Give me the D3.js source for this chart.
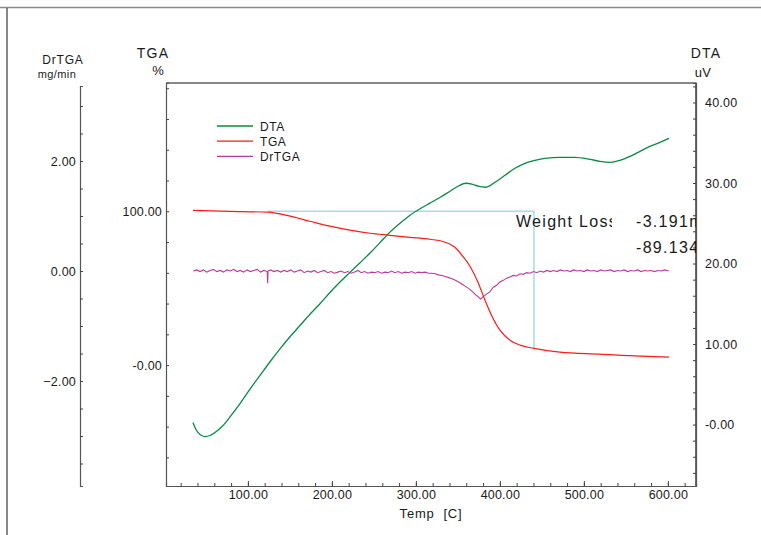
<!DOCTYPE html>
<html>
<head>
<meta charset="utf-8">
<script src="https://cdn.jsdelivr.net/npm/d3@7"></script>
<style>
  html, body { margin: 0; padding: 0; background: #fff; }
  svg { display: block; font-family: "Liberation Sans", Arial, sans-serif; }
</style>
</head>
<body>
<svg id="chart" width="761" height="535"></svg>
<script>
// ---- data ---------------------------------------------------------------
// DTA signal [temperature °C, uV]
const dtaData = [
  [34.6, 0.25], [38.2, -0.62], [43.0, -1.24], [48.9, -1.49], [54.9, -1.36],
  [60.8, -0.99], [69.2, -0.25], [78.7, 0.95], [90.6, 2.6], [102.5, 4.4],
  [114.4, 6.1], [126.3, 7.8], [138.2, 9.4], [150.1, 10.9], [162.0, 12.3],
  [173.9, 13.7], [185.8, 15.0], [197.7, 16.4], [209.6, 17.7], [221.5, 18.9],
  [233.5, 20.1], [245.4, 21.3], [257.3, 22.6], [269.2, 23.9], [281.1, 25.0],
  [293.0, 26.0], [304.9, 26.8], [316.8, 27.5], [328.7, 28.2], [340.6, 28.98],
  [350.1, 29.60], [359.6, 29.97], [366.8, 29.85], [373.9, 29.60], [383.5, 29.47],
  [394.2, 30.09], [406.1, 30.96], [418.0, 31.83], [429.9, 32.45], [441.8, 32.82],
  [453.7, 33.07], [471.5, 33.19], [489.4, 33.19], [507.3, 32.94], [519.2, 32.69],
  [531.1, 32.57], [543.0, 32.82], [554.9, 33.31], [566.8, 33.93], [578.7, 34.55],
  [590.6, 35.05], [601.3, 35.54]
];

// TGA mass [temperature °C, %]
const tgaData = [
  [34.6, 100.6], [78.7, 100.0], [123.9, 99.4], [150.1, 96.8], [173.9, 93.5],
  [197.7, 90.3], [221.5, 87.7], [245.4, 85.7], [269.2, 84.4], [293.0, 83.1],
  [316.8, 81.8], [334.6, 79.9], [346.5, 76.6], [354.9, 71.4], [364.4, 64.3],
  [373.9, 53.9], [382.3, 42.2], [390.6, 31.8], [400.1, 22.7], [412.0, 16.2],
  [423.9, 13.0], [440.6, 10.87], [471.5, 8.4], [519.2, 7.1], [566.8, 5.8],
  [601.3, 5.2]
];

// DrTGA rate [temperature °C, mg/min]
const drtgaData = [
  [35, 0.00], [39, 0.02], [43, -0.01], [47, 0.02], [51, -0.02], [55, 0.01],
  [59, 0.03], [63, -0.01], [67, 0.01], [71, -0.02], [75, 0.02], [79, 0.00],
  [83, 0.03], [87, -0.01], [91, 0.01], [95, -0.02], [99, 0.02], [103, -0.01],
  [107, 0.01], [111, 0.03], [115, -0.02], [119, 0.01], [123, -0.01], [123.5, -0.22],
  [124, 0.00], [127, 0.02], [131, -0.01], [135, 0.01], [139, -0.02], [143, 0.01],
  [147, -0.01], [151, 0.02], [155, -0.02], [159, 0.00], [163, 0.02], [167, -0.03],
  [171, 0.00], [175, -0.02], [179, 0.01], [183, -0.03], [187, -0.01], [191, 0.01],
  [195, -0.03], [199, -0.01], [203, -0.04], [207, -0.02], [211, 0.00], [215, -0.03],
  [219, -0.01], [223, -0.04], [227, -0.02], [231, 0.01], [235, -0.03], [239, -0.01],
  [243, -0.04], [247, -0.02], [251, -0.03], [255, -0.01], [259, -0.04], [263, -0.02],
  [267, -0.03], [271, 0.00], [275, -0.03], [279, -0.01], [283, -0.04], [287, -0.02],
  [291, -0.03], [295, -0.01], [299, -0.04], [303, -0.02], [307, -0.03], [311, -0.02],
  [315, -0.04], [319, -0.04], [323, -0.05], [327, -0.07], [331, -0.08], [335, -0.10],
  [339, -0.12], [343, -0.14], [347, -0.17], [351, -0.20], [355, -0.24], [359, -0.28],
  [363, -0.32], [367, -0.37], [371, -0.43], [375, -0.48], [377, -0.51], [380, -0.47],
  [384, -0.42], [388, -0.38], [392, -0.30], [396, -0.26], [400, -0.20], [404, -0.17],
  [408, -0.13], [412, -0.11], [416, -0.08], [420, -0.09], [424, -0.05], [428, -0.06],
  [432, -0.03], [436, -0.04], [440, -0.01], [444, -0.03], [448, 0.00], [452, -0.02],
  [456, 0.01], [460, -0.01], [464, 0.01], [468, -0.01], [472, 0.02], [476, 0.00],
  [480, 0.01], [484, -0.01], [488, 0.02], [492, 0.00], [496, 0.01], [500, -0.01],
  [504, 0.02], [508, 0.00], [512, 0.01], [516, -0.01], [520, 0.02], [524, 0.00],
  [528, 0.01], [532, 0.02], [536, -0.01], [540, 0.01], [544, 0.00], [548, 0.02],
  [552, -0.01], [556, 0.01], [560, 0.00], [564, 0.02], [568, -0.01], [572, 0.01],
  [576, 0.00], [580, 0.01], [584, -0.01], [588, 0.01], [592, 0.00], [596, 0.02],
  [601, 0.00]
];

// weight-loss analysis: from/to temperature and results
const lossFrom = 123.9;
const lossTo = 440.6;
const lossStartPct = 100.0;
const lossLabel = "Weight Loss";
const lossValues = ["-3.191mg", "-89.134%"];

// axis tick values and labels
const tempTicks = [100, 200, 300, 400, 500, 600];
const tgaLabelTicks = [100, 0];
const dtaLabelTicks = [40, 30, 20, 10, 0];
const drtgaLabelTicks = [2, 0, -2];
const seriesNames = ["DTA", "TGA", "DrTGA"];

// ---- layout -------------------------------------------------------------
const colors = { DTA: "#0a8a45", TGA: "#ff1a1a", DrTGA: "#b63c9e", loss: "#a6dde6" };
const plot = { left: 166, right: 696, top: 83, bottom: 486 };
const drAxisX = 80, drAxisTop = 86;

const svg = d3.select("#chart");

const x = d3.scaleLinear().domain([2.5, 633.5]).range([plot.left, plot.right]);
const yTga = d3.scaleLinear().domain([-78.6, 183.4]).range([plot.bottom, plot.top]);
const yDta = d3.scaleLinear().domain([-7.63, 42.42]).range([plot.bottom, plot.top]);
const yDr = d3.scaleLinear().domain([-3.909, 3.364]).range([plot.bottom, drAxisTop]);

const fmt = v => (Math.abs(v) < 1e-9 ? "-0.00" : d3.format(".2f")(v));

// outer page frame
svg.append("line").attr("x1", 0).attr("x2", 761).attr("y1", 7.5).attr("y2", 7.5)
  .attr("stroke", "#8a8a8a").attr("stroke-width", 1.5);
svg.append("line").attr("x1", 7).attr("x2", 7).attr("y1", 8).attr("y2", 535)
  .attr("stroke", "#111").attr("stroke-width", 1);

// plot frame: top and right edges
svg.append("path")
  .attr("d", `M${plot.left},${plot.top}H${plot.right}V${plot.bottom}`)
  .attr("fill", "none").attr("stroke", "#111").attr("stroke-width", 1.2);

function styleAxis(g) {
  g.select(".domain").attr("stroke", "#555").attr("stroke-width", 1.2);
  g.selectAll(".tick line").attr("stroke", "#444");
  g.selectAll("text").attr("fill", "#1a1a1a").style("font-size", "12.5px")
    .style("letter-spacing", "0.2px").attr("font-family", "Liberation Sans, Arial, sans-serif");
}

// bottom temperature axis: minor ticks every 20, labels every 100
const xMinor = d3.range(20, 634, 20);
svg.append("g").attr("transform", `translate(0,${plot.bottom})`)
  .call(d3.axisTop(x).tickValues(xMinor).tickSize(3).tickFormat(""))
  .call(styleAxis);
svg.append("g").attr("transform", `translate(0,${plot.bottom})`)
  .call(d3.axisBottom(x).tickValues(tempTicks).tickSize(0).tickPadding(4).tickFormat(d3.format(".2f")))
  .call(g => g.select(".domain").remove())
  .call(styleAxis);
svg.append("g").attr("transform", `translate(0,${plot.bottom})`)
  .call(d3.axisTop(x).tickValues(tempTicks).tickSize(5).tickFormat(""))
  .call(g => g.select(".domain").remove())
  .call(styleAxis);

// left TGA axis
svg.append("g").attr("transform", `translate(${plot.left},0)`)
  .call(d3.axisRight(yTga).tickValues(d3.range(-60, 181, 20)).tickSize(3).tickFormat(""))
  .call(styleAxis);
svg.append("g").attr("transform", `translate(${plot.left},0)`)
  .call(d3.axisLeft(yTga).tickValues(tgaLabelTicks).tickSize(0).tickPadding(4).tickFormat(fmt))
  .call(g => g.select(".domain").remove())
  .call(styleAxis);

// right DTA axis
svg.append("g").attr("transform", `translate(${plot.right},0)`)
  .call(d3.axisLeft(yDta).tickValues(d3.range(-6, 43, 2)).tickSize(3).tickFormat(""))
  .call(g => g.select(".domain").attr("stroke", "#111"))
  .call(styleAxis);
svg.append("g").attr("transform", `translate(${plot.right},0)`)
  .call(d3.axisRight(yDta).tickValues(dtaLabelTicks).tickSize(0).tickPadding(9).tickFormat(fmt))
  .call(g => g.select(".domain").remove())
  .call(styleAxis);

// far-left DrTGA axis
svg.append("g").attr("transform", `translate(${drAxisX},0)`)
  .call(d3.axisRight(yDr).tickValues(d3.range(-3.5, 3.01, 0.5)).tickSize(3).tickFormat(""))
  .call(styleAxis);
svg.append("g").attr("transform", `translate(${drAxisX},0)`)
  .call(d3.axisLeft(yDr).tickValues(drtgaLabelTicks).tickSize(0).tickPadding(4).tickFormat(d3.format(".2f")))
  .call(g => g.select(".domain").remove())
  .call(styleAxis);

// axis titles
const titles = [
  { t: "DrTGA", x: 63, y: 64, s: 12, ls: 0.8 },
  { t: "mg/min", x: 57, y: 78, s: 11, ls: 0.4 },
  { t: "TGA", x: 153, y: 58, s: 14, ls: 1.2 },
  { t: "%", x: 158, y: 75, s: 13, ls: 0 },
  { t: "DTA", x: 706, y: 58, s: 14, ls: 1.2 },
  { t: "uV", x: 703, y: 77, s: 13, ls: 0.4 },
  { t: "Temp  [C]", x: 431, y: 518, s: 13, ls: 0.8 }
];
svg.append("g").selectAll("text").data(titles).join("text")
  .attr("x", d => d.x).attr("y", d => d.y).attr("text-anchor", "middle")
  .style("font-size", d => d.s + "px").style("letter-spacing", d => d.ls + "px")
  .style("white-space", "pre").attr("fill", "#1a1a1a").text(d => d.t);

// clip for the curves
svg.append("clipPath").attr("id", "plotClip").append("rect")
  .attr("x", plot.left).attr("y", plot.top)
  .attr("width", plot.right - plot.left).attr("height", plot.bottom - plot.top);
const layer = svg.append("g").attr("clip-path", "url(#plotClip)");

// weight-loss construction lines
const tgaAtEnd = tgaData.find(d => d[0] === lossTo)[1];
layer.append("path")
  .attr("d", `M${x(lossFrom)},${yTga(lossStartPct)}H${x(lossTo)}V${yTga(tgaAtEnd)}`)
  .attr("fill", "none").attr("stroke", colors.loss).attr("stroke-width", 1.5);

// curves
const line = yScale => d3.line().x(d => x(d[0])).y(d => yScale(d[1]));
layer.append("path").datum(drtgaData).attr("d", line(yDr))
  .attr("fill", "none").attr("stroke", colors.DrTGA).attr("stroke-width", 1.1);
layer.append("path").datum(tgaData).attr("d", line(yTga).curve(d3.curveMonotoneX))
  .attr("fill", "none").attr("stroke", colors.TGA).attr("stroke-width", 1.2);
layer.append("path").datum(dtaData).attr("d", line(yDta).curve(d3.curveMonotoneX))
  .attr("fill", "none").attr("stroke", colors.DTA).attr("stroke-width", 1.3);

// legend
const legend = svg.append("g").selectAll("g").data(seriesNames).join("g")
  .attr("transform", (d, i) => `translate(217,${126 + i * 15.2})`);
legend.append("line").attr("x1", 0).attr("x2", 36)
  .attr("stroke", d => colors[d]).attr("stroke-width", 1.3);
legend.append("text").attr("x", 43).attr("y", 4.5)
  .style("font-size", "12px").style("letter-spacing", "0.6px").attr("fill", "#1a1a1a").text(d => d);

// weight-loss annotation, each field clipped to its cell
const cells = [
  { id: "c0", x: 516, w: 96, y: 227, t: lossLabel },
  { id: "c1", x: 636, w: 60, y: 227, t: lossValues[0] },
  { id: "c2", x: 636, w: 60, y: 253, t: lossValues[1] }
];
cells.forEach(c => {
  svg.append("clipPath").attr("id", c.id).append("rect")
    .attr("x", c.x).attr("y", c.y - 20).attr("width", c.w).attr("height", 28);
  svg.append("text").attr("clip-path", `url(#${c.id})`)
    .attr("x", c.x).attr("y", c.y)
    .style("font-size", "16px").style("letter-spacing", "1.3px")
    .attr("fill", "#1a1a1a").text(c.t);
});
</script>
</body>
</html>
